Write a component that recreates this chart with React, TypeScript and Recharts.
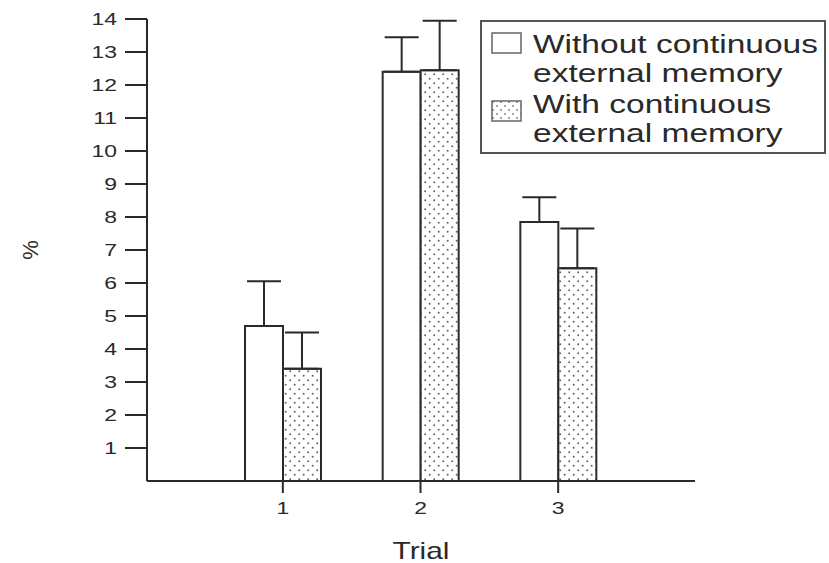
import { Bar, BarChart, ErrorBar, Legend, XAxis, YAxis } from "recharts";

const trials = ["1", "2", "3"];
const withoutMemory = [4.7, 12.4, 7.85];
const withoutMemoryErr = [1.35, 1.05, 0.75];
const withMemory = [3.4, 12.45, 6.45];
const withMemoryErr = [1.1, 1.5, 1.2];
const yTicks = [1, 2, 3, 4, 5, 6, 7, 8, 9, 10, 11, 12, 13, 14];
const legendLabels = [
  ["Without continuous", "external memory"],
  ["With continuous", "external memory"],
];

const data = trials.map((trial, i) => ({
  trial,
  without: withoutMemory[i],
  withoutErr: [0, withoutMemoryErr[i]],
  with: withMemory[i],
  withErr: [0, withMemoryErr[i]],
}));

const INK = "#2a2a2a";
const FONT = '"Liberation Sans", Arial, sans-serif';

const YTick = ({ x, y, payload }: any) => (
  <g transform={`translate(${x},${y})`}>
    <text transform="scale(1.35,1)" textAnchor="end" dy="0.36em" fontSize={17} fill={INK} fontFamily={FONT}>
      {payload.value}
    </text>
  </g>
);

const XTick = ({ x, y, payload }: any) => (
  <g transform={`translate(${x},${y})`}>
    <text transform="scale(1.35,1)" textAnchor="middle" dy="0.71em" fontSize={17} fill={INK} fontFamily={FONT}>
      {payload.value}
    </text>
  </g>
);

function Swatch({ dotted }: { dotted: boolean }) {
  return (
    <svg width={31} height={22}>
      <defs>
        <pattern id="legendDots" width="8" height="8" patternUnits="userSpaceOnUse">
          <circle cx="2" cy="2" r="0.9" fill="#777" />
          <circle cx="6" cy="6" r="0.9" fill="#777" />
        </pattern>
      </defs>
      <rect x={1} y={1} width={29} height={20} fill={dotted ? "url(#legendDots)" : "#fff"} stroke="#666" strokeWidth={1.5} />
    </svg>
  );
}

const renderLegend = () => (
  <div
    style={{
      position: "relative",
      width: 346,
      height: 134,
      boxSizing: "border-box",
      border: "2px solid #555",
      background: "#fff",
      fontFamily: FONT,
      color: INK,
    }}
  >
    {legendLabels.map((lines, i) => (
      <div key={i}>
        <div style={{ position: "absolute", left: 9, top: 10 + i * 68 }}>
          <Swatch dotted={i === 1} />
        </div>
        <div
          style={{
            position: "absolute",
            left: 51,
            top: 8 + i * 60,
            fontSize: 25,
            lineHeight: "29px",
            whiteSpace: "nowrap",
            transform: "scaleX(1.34)",
            transformOrigin: "left",
          }}
        >
          {lines[0]}
          <br />
          {lines[1]}
        </div>
      </div>
    ))}
  </div>
);

export default function App() {
  return (
    <div style={{ position: "absolute", left: 0, top: 0, width: 829, height: 563, background: "#fff" }}>
      <BarChart
        width={829}
        height={563}
        data={data}
        margin={{ top: 19, right: 134, bottom: 12, left: 67 }}
        barSize={38}
        barGap={0}
      >
        <defs>
          <pattern id="dots" width="9" height="9" patternUnits="userSpaceOnUse">
            <rect width="9" height="9" fill="#fff" />
            <circle cx="2.2" cy="2.2" r="1" fill="#666" />
            <circle cx="6.7" cy="6.7" r="1" fill="#666" />
          </pattern>
        </defs>
        <XAxis
          dataKey="trial"
          height={70}
          padding={{ left: 67, right: 68 }}
          tickSize={12}
          tickMargin={9}
          tick={<XTick />}
          axisLine={{ stroke: INK, strokeWidth: 2 }}
          tickLine={{ stroke: INK, strokeWidth: 2 }}
          label={{
            content: ({ viewBox }: any) => (
              <g transform={`translate(${viewBox.x + viewBox.width / 2},${viewBox.y + 78})`}>
                <text transform="scale(1.3,1)" textAnchor="middle" fontSize={23} fill={INK} fontFamily={FONT}>
                  Trial
                </text>
              </g>
            ),
          }}
        />
        <YAxis
          type="number"
          domain={[0, 14]}
          ticks={yTicks}
          width={80}
          tickSize={22}
          tickMargin={8}
          tick={<YTick />}
          axisLine={{ stroke: INK, strokeWidth: 2 }}
          tickLine={{ stroke: INK, strokeWidth: 2 }}
          label={{
            content: ({ viewBox }: any) => (
              <g transform={`translate(${viewBox.x - 37},${viewBox.y + viewBox.height / 2})`}>
                <text transform="rotate(-90)" textAnchor="middle" dy="0.36em" fontSize={22} fill={INK} fontFamily={FONT}>
                  %
                </text>
              </g>
            ),
          }}
        />
        <Legend
          layout="horizontal"
          verticalAlign="middle"
          align="center"
          content={renderLegend}
          wrapperStyle={{ left: 480, top: 20, width: 346, height: 134 }}
        />
        <Bar dataKey="without" fill="#fff" stroke={INK} strokeWidth={2} isAnimationActive={false}>
          <ErrorBar dataKey="withoutErr" direction="y" width={17} stroke={INK} strokeWidth={2} />
        </Bar>
        <Bar dataKey="with" fill="url(#dots)" stroke={INK} strokeWidth={2} isAnimationActive={false}>
          <ErrorBar dataKey="withErr" direction="y" width={17} stroke={INK} strokeWidth={2} />
        </Bar>
      </BarChart>
    </div>
  );
}
